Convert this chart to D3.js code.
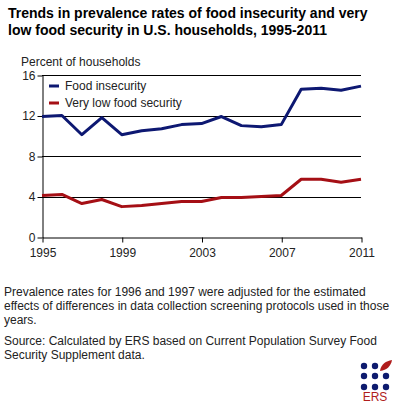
<!DOCTYPE html>
<html><head><meta charset="utf-8">
<script src="https://cdn.jsdelivr.net/npm/d3@7/dist/d3.min.js"></script>
<style>
body{margin:0;background:#fff;}
svg{display:block;font-family:"Liberation Sans",Arial,sans-serif;}
</style></head>
<body>
<svg id="c" width="396" height="410"></svg>
<script>
const years = [1995,1996,1997,1998,1999,2000,2001,2002,2003,2004,2005,2006,2007,2008,2009,2010,2011];
const foodInsecurity = [11.9,12.0,10.1,11.8,10.1,10.5,10.7,11.1,11.2,11.9,11.0,10.9,11.1,14.6,14.7,14.5,14.9];
const veryLowFoodSecurity = [4.1,4.2,3.3,3.7,3.0,3.1,3.3,3.5,3.5,3.9,3.9,4.0,4.1,5.7,5.7,5.4,5.7];
const xTicks = [1995,1999,2003,2007,2011];
const yTicks = [0,4,8,12,16];
const seriesNames = ["Food insecurity","Very low food security"];
const colors = ["#0d1872","#a50f15"];

(function(){
const svg = d3.select("#c");
const pL = 42, pR = 361, pT = 75, pB = 237;
const x = d3.scaleLinear().domain([1995,2011]).range([pL,pR]);
const y = d3.scaleLinear().domain([0,16]).range([pB,pT]);

svg.append("text").attr("x",8).attr("y",18).attr("font-size",14).attr("font-weight","bold").text("Trends in prevalence rates of food insecurity and very");
svg.append("text").attr("x",8).attr("y",35).attr("font-size",14).attr("font-weight","bold").text("low food security in U.S. households, 1995-2011");
svg.append("text").attr("x",21).attr("y",66).attr("font-size",12).attr("fill","#222").text("Percent of households");

// gridlines
svg.append("g").selectAll("line").data(yTicks.filter(d=>d>0)).join("line")
  .attr("x1",pL).attr("x2",pR).attr("y1",d=>Math.round(y(d))+0.5).attr("y2",d=>Math.round(y(d))+0.5)
  .attr("stroke","#000").attr("stroke-width",1);

const yAxis = svg.append("g").attr("transform",`translate(${pL+0.5},0.5)`)
  .call(d3.axisLeft(y).tickValues(yTicks).tickSize(5).tickSizeOuter(0).tickFormat(d3.format("d")));
const xAxis = svg.append("g").attr("transform",`translate(0.5,${pB+0.5})`)
  .call(d3.axisBottom(x).tickValues(xTicks).tickSize(5).tickSizeOuter(0).tickFormat(d3.format("d")));
[yAxis,xAxis].forEach(g=>{
  g.selectAll("path").attr("stroke","#000");
  g.selectAll("line").attr("stroke","#000");
  g.selectAll("text").attr("font-size",12).attr("fill","#222").attr("font-family","Liberation Sans, Arial, sans-serif");
});
xAxis.selectAll("text").attr("y",11).attr("dy","0.71em");
yAxis.selectAll("text").attr("x",-7);

const line = d3.line().x((d,i)=>x(years[i])).y(d=>y(d));
[foodInsecurity,veryLowFoodSecurity].forEach((s,k)=>{
  svg.append("path").datum(s).attr("d",line).attr("fill","none")
    .attr("stroke",colors[k]).attr("stroke-width",3).attr("stroke-linejoin","round");
});

// legend
seriesNames.forEach((n,k)=>{
  const ly = 86 + k*17;
  svg.append("line").attr("x1",49).attr("x2",59).attr("y1",ly).attr("y2",ly).attr("stroke",colors[k]).attr("stroke-width",3);
  svg.append("text").attr("x",65).attr("y",ly+4).attr("font-size",12).attr("fill","#222").text(n);
});

// footnotes
const notes = [
  ["Prevalence rates for 1996 and 1997 were adjusted for the estimated",296],
  ["effects of differences in data collection screening protocols used in those",310],
  ["years.",324],
  ["Source: Calculated by ERS based on Current Population Survey Food",345],
  ["Security Supplement data.",359]
];
notes.forEach(([t,yy])=>svg.append("text").attr("x",4).attr("y",yy).attr("font-size",12).attr("fill","#222").text(t));

// ERS logo
const logo = svg.append("g");
const dx = [364,375,386], dy = [366,376,387];
dy.forEach((yy,r)=>dx.forEach((xx,c)=>{
  if(r===0 && c===2) return;
  logo.append("circle").attr("cx",xx).attr("cy",yy).attr("r",3.2).attr("fill","#0d1a6e");
}));
logo.append("path").attr("d","M380,371 C381,364 386,361 392,360 C391,366 387,370 380,371 Z").attr("fill","#b01c1c");
logo.append("text").attr("x",375).attr("y",401).attr("text-anchor","middle").attr("font-size",12).attr("fill","#b01c1c").text("ERS");
})();
</script>
</body></html>
